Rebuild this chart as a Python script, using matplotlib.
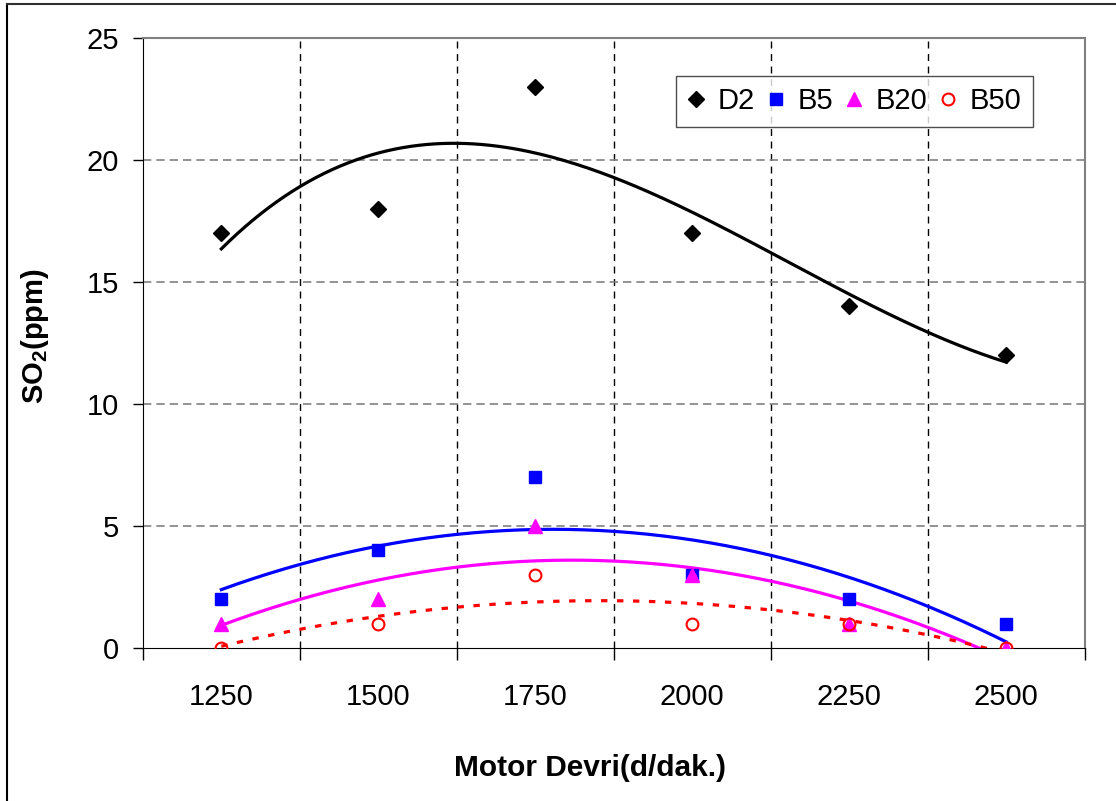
import numpy as np
import matplotlib
matplotlib.use("Agg")
import matplotlib.pyplot as plt
from matplotlib.lines import Line2D

# ---- data ----
rpm_labels = ["1250", "1500", "1750", "2000", "2250", "2500"]
d2 = [17, 18, 23, 17, 14, 12]
b5 = [2, 4, 7, 3, 2, 1]
b20 = [1, 2, 5, 3, 1, 0]
b50 = [0, 1, 3, 1, 1, 0]

plt.rcParams["font.family"] = ["Liberation Sans", "DejaVu Sans"]

x = np.arange(1, len(rpm_labels) + 1)
xs = np.linspace(1, len(rpm_labels), 200)

fig = plt.figure(figsize=(11.16, 8.01), dpi=100)
ax = fig.add_axes([0.128, 0.191, 0.844, 0.7616])

# Excel-style polynomial trendlines
series = [
    (d2, "D2", "black", "D", 3, "-", dict(markersize=8.5)),
    (b5, "B5", "#0000FF", "s", 2, "-", dict(markersize=8.5)),
    (b20, "B20", "#FF00FF", "^", 2, "-", dict(markersize=9.5)),
    (b50, "B50", "#FF0000", "o", 2, (0, (2, 3)), dict(markersize=8.5, markerfacecolor="none", markeredgewidth=1.5)),
]
for vals, name, col, mk, deg, ls, mkw in series:
    coef = np.polyfit(x, vals, deg)
    ax.plot(xs, np.polyval(coef, xs), color=col, lw=2.3, ls=ls, zorder=2)
for vals, name, col, mk, deg, ls, mkw in series:
    ax.plot(x, vals, ls="none", marker=mk, color=col, label=name, zorder=3, **mkw)

ax.set_xlim(0.5, len(rpm_labels) + 0.5)
ax.set_ylim(0, 25)

# category boundaries as major ticks, labels at centers
ax.set_xticks(np.arange(0.5, len(rpm_labels) + 1, 1.0))
ax.set_xticklabels([])
ax.set_xticks(x, minor=True)
ax.set_xticklabels(rpm_labels, minor=True)
ax.tick_params(axis="x", which="major", direction="out", length=8.5, width=1)
ax.tick_params(axis="x", which="minor", length=0, pad=25, labelsize=21)
ax.set_yticks(np.arange(0, 26, 5))
ax.tick_params(axis="y", direction="out", length=7, width=1, pad=10, labelsize=21)

for xb in np.arange(1.5, len(rpm_labels), 1.0):
    ax.axvline(xb, color="black", lw=1, ls=(0, (5, 4)), zorder=1)
for yv in [5, 10, 15, 20]:
    ax.axhline(yv, color="#808080", lw=1.2, ls=(0, (5, 3)), zorder=1)

ax.spines["top"].set_color("#808080")
ax.spines["right"].set_color("#808080")
ax.spines["top"].set_linewidth(1.5)
ax.spines["right"].set_linewidth(1.5)

fig.text(0.529, 0.041, "Motor Devri(d/dak.)", fontsize=21.5, fontweight="bold",
         ha="center", va="center")
fig.text(0.031, 0.58, "SO$_\\mathregular{2}$(ppm)", fontsize=21, fontweight="bold",
         ha="center", va="center", rotation=90)

leg = ax.legend(loc="upper right", bbox_to_anchor=(0.945, 0.938), ncol=4, fontsize=21,
                frameon=True, fancybox=False, edgecolor="#202020", handlelength=0.6,
                handletextpad=0.45, columnspacing=0.4, borderpad=0.4, borderaxespad=0)
leg.get_frame().set_linewidth(1)

# outer chart frame (top and left edges visible)
fig.add_artist(Line2D([0.0063, 0.0063], [0.0, 0.995], transform=fig.transFigure,
                      color="black", lw=1.5))
fig.add_artist(Line2D([0.0063, 1.0], [0.995, 0.995], transform=fig.transFigure,
                      color="#303030", lw=1.5))

fig.savefig("out.png", dpi=100)
